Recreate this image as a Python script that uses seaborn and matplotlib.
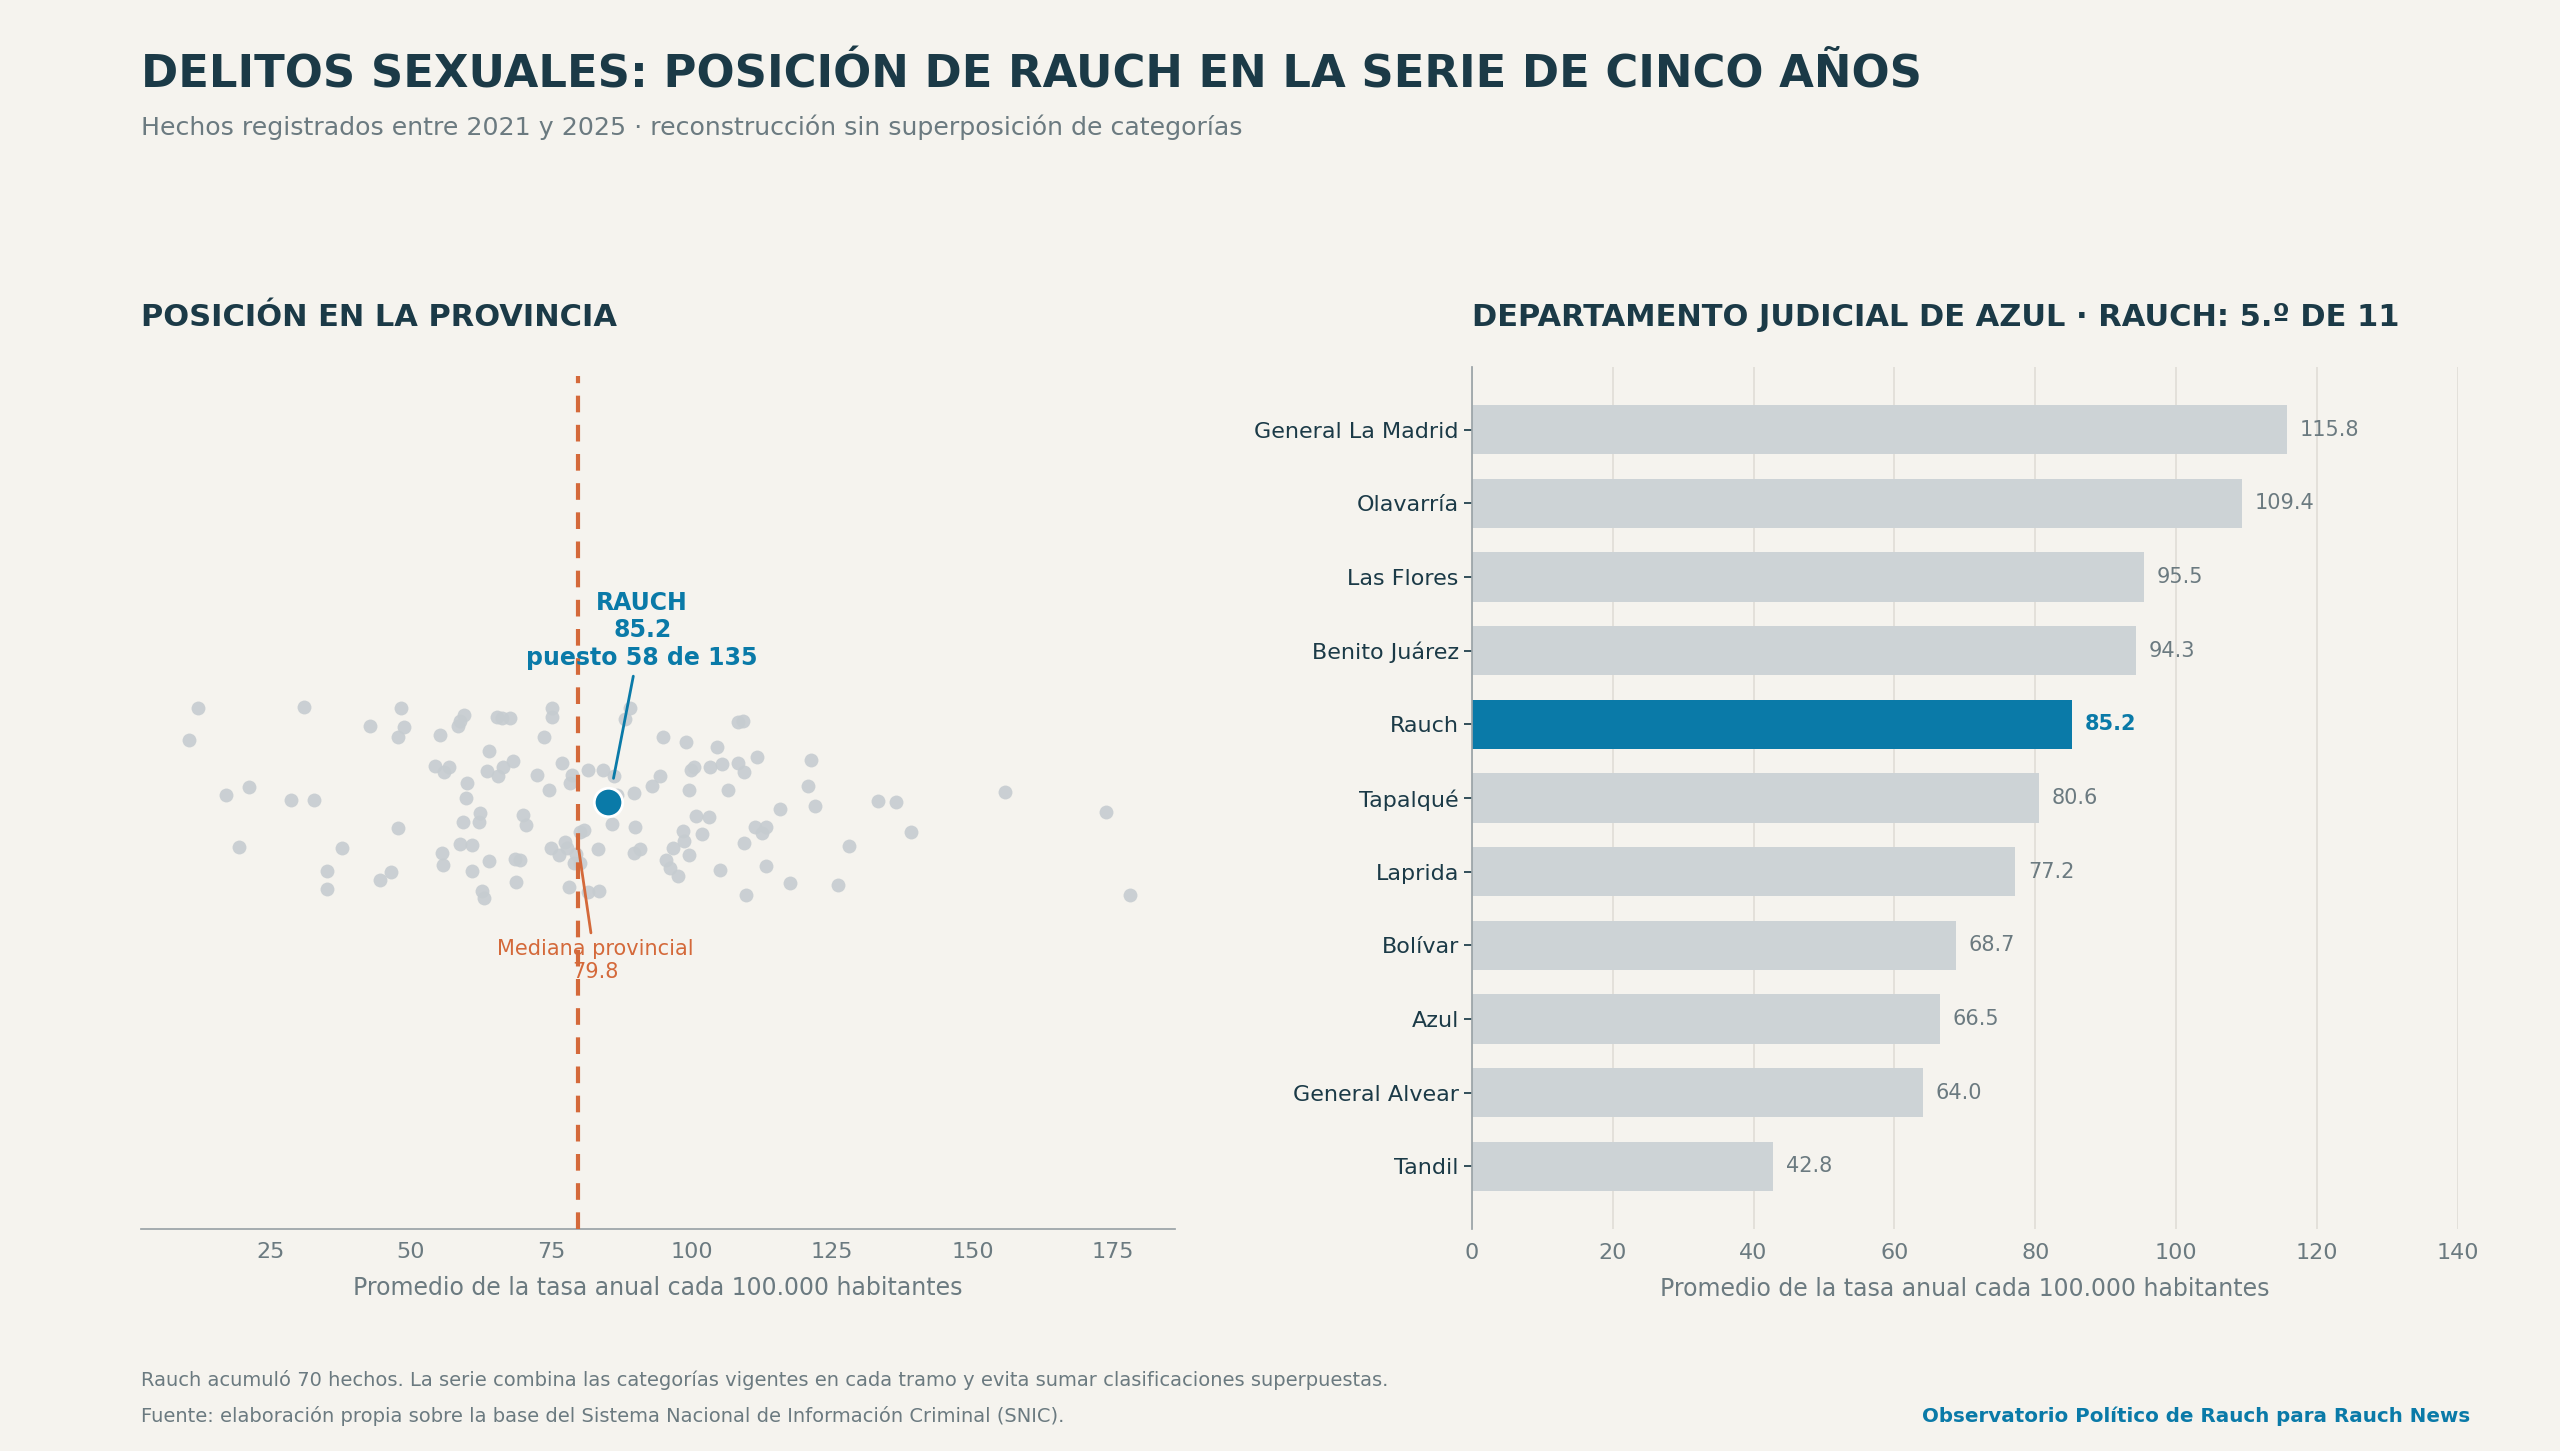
import numpy as np
import pandas as pd
import matplotlib
matplotlib.use("Agg")
import matplotlib.pyplot as plt
import seaborn as sns

# Tasas por municipio (promedio anual cada 100.000 hab.)
tasas_provincia = [
    10.5, 12.2, 17.2, 19.5, 21.2, 28.8, 31.1, 32.8, 35.2, 35.2, 37.8, 42.7, 44.5, 46.5,
    47.7, 47.7, 48.3, 48.9, 54.3, 55.2, 55.5, 55.7, 56.0, 56.9, 58.4, 58.7, 58.7, 59.3,
    59.5, 59.8, 60.1, 61.0, 61.0, 62.1, 62.4, 62.7, 63.0, 63.6, 63.9, 63.9, 65.3, 65.6,
    66.2, 66.5, 67.6, 68.2, 68.5, 68.8, 69.4, 70.0, 70.5, 72.5, 73.7, 74.6, 74.9, 75.2,
    75.2, 76.4, 77.0, 77.5, 77.8, 78.1, 78.4, 78.7, 79.0, 79.5, 80.1, 80.1, 80.9, 81.5,
    81.5, 83.3, 83.6, 84.2, 85.9, 86.2, 86.8, 88.2, 89.1, 89.7, 89.7, 90.0, 90.8, 92.9,
    94.3, 94.9, 95.5, 96.1, 96.7, 97.5, 98.4, 98.7, 99.0, 99.6, 99.8, 99.6, 100.4, 100.7,
    101.9, 103.0, 103.3, 104.5, 105.0, 105.4, 106.5, 108.3, 108.3, 109.1, 109.4, 109.4,
    109.7, 111.2, 111.7, 112.6, 113.2, 113.2, 115.8, 117.5, 120.7, 121.3, 121.9, 126.0,
    128.0, 133.2, 136.4, 139.0, 155.8, 173.8, 177.9,
]
rauch_tasa = 85.2
mediana = 79.8

partidos = ["General La Madrid", "Olavarría", "Las Flores", "Benito Juárez", "Rauch",
            "Tapalqué", "Laprida", "Bolívar", "Azul", "General Alvear", "Tandil"]
tasas_depto = [115.8, 109.4, 95.5, 94.3, 85.2, 80.6, 77.2, 68.7, 66.5, 64.0, 42.8]

BG = "#f5f3ee"
DARK = "#1b3a47"
BLUE = "#0a7aa8"
ORANGE = "#d4693a"
GREY = "#cdd3d6"
MUTED = "#6b7a80"

sns.set_theme(style="white")
plt.rcParams["font.family"] = ["DejaVu Sans"]

fig = plt.figure(figsize=(25.6, 14.51), dpi=100, facecolor=BG)
ax1 = fig.add_axes([0.055, 0.153, 0.404, 0.588], facecolor=BG)
ax2 = fig.add_axes([0.575, 0.153, 0.385, 0.594], facecolor=BG)

# --- izquierda: strip plot
df = pd.DataFrame({"tasa": tasas_provincia, "g": 0})
np.random.seed(11)
sns.stripplot(data=df, x="tasa", y="g", orient="h", native_scale=True, jitter=0.23,
              color="#c6ccd0", size=10, alpha=0.9, ax=ax1, zorder=2)
ax1.scatter([rauch_tasa], [0], s=420, color=BLUE, edgecolor="white", linewidth=2, zorder=5)
ax1.axvline(mediana, color=ORANGE, linestyle=(0, (4, 3)), linewidth=3, zorder=3)
ax1.set_xlim(2, 186)
ax1.set_ylim(1, -1)
ax1.set_yticks([])
ax1.set_ylabel("")
ax1.set_xticks([25, 50, 75, 100, 125, 150, 175])
ax1.tick_params(axis="x", labelsize=16, colors=MUTED, length=6)
ax1.set_xlabel("Promedio de la tasa anual cada 100.000 habitantes", fontsize=17, color=MUTED, labelpad=10)
for s in ["top", "right", "left"]:
    ax1.spines[s].set_visible(False)
ax1.spines["bottom"].set_color("#9aa3a7")
ax1.annotate(f"RAUCH\n{rauch_tasa:.1f}\npuesto 58 de 135", xy=(rauch_tasa + 0.8, -0.05),
             xytext=(rauch_tasa + 6, -0.31), ha="center", va="bottom", fontsize=17,
             fontweight="bold", color=BLUE,
             arrowprops=dict(arrowstyle="-", color=BLUE, lw=2))
ax1.annotate(f"Mediana provincial\n{mediana:.1f}", xy=(mediana, 0.1),
             xytext=(mediana + 3, 0.32), ha="center", va="top", fontsize=15, color=ORANGE,
             arrowprops=dict(arrowstyle="-", color=ORANGE, lw=2))
fig.text(0.055, 0.775, "POSICIÓN EN LA PROVINCIA", fontsize=22, fontweight="bold", color=DARK)

# --- derecha: barras
colores = [BLUE if p == "Rauch" else GREY for p in partidos]
sns.barplot(x=tasas_depto, y=partidos, hue=partidos, palette=colores, legend=False,
            width=0.67, saturation=1, linewidth=0, ax=ax2, zorder=2)
ax2.set_xlim(0, 140)
ax2.set_ylim(10.85, -0.85)
ax2.set_xticks(range(0, 141, 20))
ax2.grid(axis="x", color="#e0ddd6", linewidth=1.2, zorder=0)
ax2.set_axisbelow(True)
for s in ["top", "right", "bottom"]:
    ax2.spines[s].set_visible(False)
ax2.spines["left"].set_color("#9aa3a7")
ax2.tick_params(axis="x", labelsize=16, colors=MUTED, length=0, pad=10)
ax2.tick_params(axis="y", labelsize=16, colors=DARK, length=6, left=True)
ax2.set_ylabel("")
ax2.set_xlabel("Promedio de la tasa anual cada 100.000 habitantes", fontsize=17, color=MUTED, labelpad=10)
for i, (p, v) in enumerate(zip(partidos, tasas_depto)):
    rauch = p == "Rauch"
    ax2.text(v + 1.8, i, f"{v:.1f}", va="center", fontsize=15,
             color=BLUE if rauch else MUTED, fontweight="bold" if rauch else "normal")
fig.text(0.575, 0.775, "DEPARTAMENTO JUDICIAL DE AZUL · RAUCH: 5.º DE 11", fontsize=22,
         fontweight="bold", color=DARK)

# --- textos
fig.text(0.055, 0.94, "DELITOS SEXUALES: POSICIÓN DE RAUCH EN LA SERIE DE CINCO AÑOS",
         fontsize=32.3, fontweight="bold", color=DARK)
fig.text(0.055, 0.907, "Hechos registrados entre 2021 y 2025 · reconstrucción sin superposición de categorías",
         fontsize=18.2, color=MUTED)
fig.text(0.055, 0.045, "Rauch acumuló 70 hechos. La serie combina las categorías vigentes en cada tramo y evita sumar clasificaciones superpuestas.",
         fontsize=14, color=MUTED)
fig.text(0.055, 0.02, "Fuente: elaboración propia sobre la base del Sistema Nacional de Información Criminal (SNIC).",
         fontsize=14, color=MUTED)
fig.text(0.965, 0.02, "Observatorio Político de Rauch para Rauch News", fontsize=14.3,
         fontweight="bold", color=BLUE, ha="right")

fig.savefig("out.png", dpi=100, facecolor=BG)
